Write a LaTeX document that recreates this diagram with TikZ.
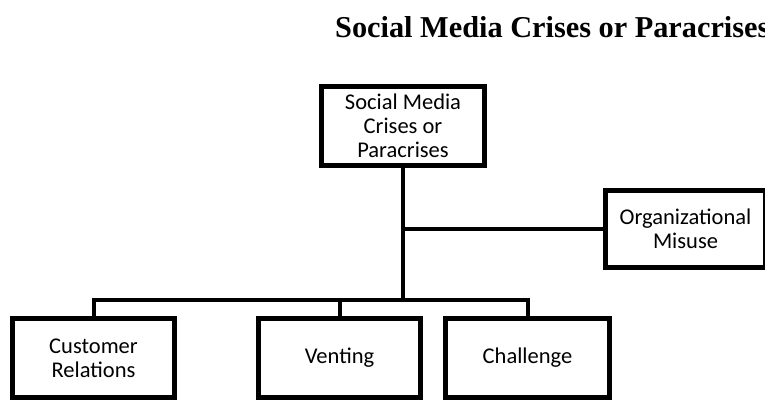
\documentclass[tikz,border=0pt]{standalone}
\usepackage{fontspec}
\setmainfont{Carlito}
\newfontfamily\titlefont{Liberation Serif}
\begin{document}
\begin{tikzpicture}[x=1pt,y=-1pt,
  box/.style={draw=black,line width=5pt,fill=white,align=center,inner sep=0pt,
    font=\fontsize{22.5}{24}\selectfont,minimum height=79pt},
  conn/.style={draw=black,line width=4pt}]
\useasboundingbox (0,0) rectangle (765,399);
\node[anchor=base west,font=\titlefont\bfseries\fontsize{30.3}{32}\selectfont,inner sep=0pt] (title) at (335,37) {Social Media Crises or Paracrises};
\node[box,minimum width=163pt] (top) at (403,126) {Social Media\\Crises or\\Paracrises};
\node[box,minimum width=160pt,minimum height=77pt] (org) at (685.5,229) {Organizational\\Misuse};
\node[box,minimum width=162pt] (cust) at (93.5,358) {Customer\\Relations};
\node[box,minimum width=162pt] (vent) at (339.5,358) {Venting};
\node[box,minimum width=164pt] (chal) at (527.5,358) {Challenge};
\coordinate (bar) at (403,300);
\coordinate (br) at (403,229);
\path[conn] (top.south) -- (bar);
\path[conn] (br) -- (org.west);
\path[conn,line cap=butt] (cust.north) -- (cust.north |- bar) -- (chal.north |- bar) -- (chal.north);
\path[conn] (vent.north) -- (vent.north |- bar);
\end{tikzpicture}
\end{document}
